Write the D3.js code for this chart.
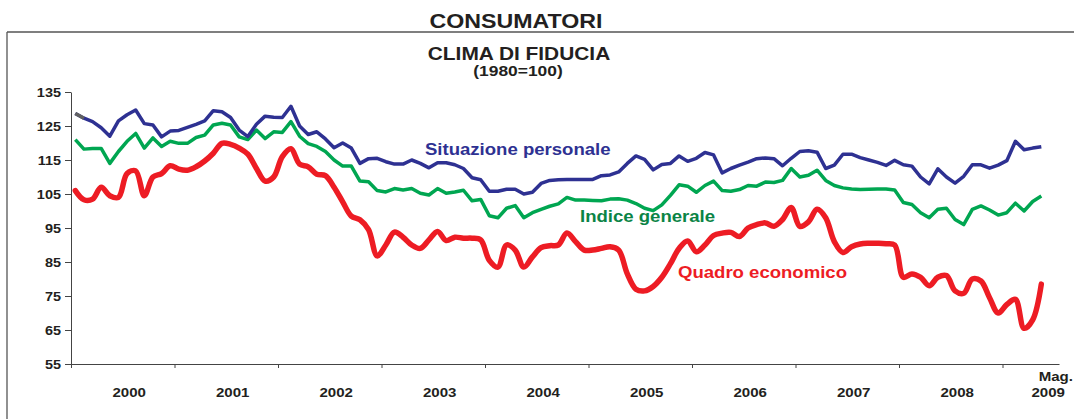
<!DOCTYPE html>
<html>
<head>
<meta charset="utf-8">
<script src="https://cdn.jsdelivr.net/npm/d3@7"></script>
<style>
  body { margin: 0; background: #fff; }
  text { font-family: "Liberation Sans", Arial, sans-serif; font-weight: bold; }
</style>
</head>
<body>
<script>
// monthly series, Jan 2000 .. May 2009
var years = [2000, 2001, 2002, 2003, 2004, 2005, 2006, 2007, 2008, 2009];
var lastMonthLabel = "Mag.";
var yTicks = [55, 65, 75, 85, 95, 105, 115, 125, 135];

var situazionePersonale = [
  128.7, 127.3, 126.3, 124.5, 122.0, 126.5, 128.3, 129.7, 125.7, 125.3, 121.8, 123.5,
  123.7, 124.6, 125.5, 126.5, 129.5, 129.2, 127.5, 123.8, 121.9, 125.5, 127.9, 127.6,
  127.5, 130.8, 125.0, 122.5, 123.3, 121.2, 118.6, 120.0, 118.5, 114.0, 115.4, 115.5,
  114.5, 113.8, 113.8, 115.0, 114.0, 112.7, 114.2, 114.2, 113.6, 112.5, 109.8, 109.2,
  105.8, 105.8, 106.4, 106.4, 105.0, 105.5, 108.1, 109.0, 109.2, 109.3, 109.3, 109.3,
  109.3, 110.4, 110.6, 111.5, 114.0, 116.2, 115.2, 112.1, 113.7, 114.0, 116.2, 114.6,
  115.5, 117.2, 116.5, 111.2, 112.5, 113.5, 114.4, 115.4, 115.6, 115.4, 113.3, 115.5,
  117.5, 117.7, 117.3, 112.5, 113.5, 116.7, 116.7, 115.7, 115.0, 114.3, 113.4, 114.9,
  113.6, 113.2, 110.0, 108.0, 112.4, 110.0, 108.2, 110.2, 113.6, 113.6, 112.6, 113.5,
  114.8, 120.5, 118.0, 118.5, 118.9
];

var indiceGenerale = [
  121.0, 118.2, 118.4, 118.4, 114.0, 117.5, 120.5, 122.8, 118.5, 121.5, 119.0, 120.5,
  119.9, 119.9, 121.6, 122.3, 125.3, 125.8, 125.3, 121.8, 121.0, 123.8, 121.3, 123.3,
  123.1, 126.3, 122.0, 119.8, 119.0, 117.5, 115.0, 113.2, 113.2, 108.8, 108.6, 106.0,
  105.6, 106.6, 106.2, 106.6, 105.2, 104.7, 106.6, 105.2, 105.6, 106.1, 103.0, 103.4,
  98.6, 98.0, 100.8, 101.6, 98.0, 99.5, 100.5, 101.4, 102.1, 104.0, 103.2, 103.2,
  103.1, 103.0, 103.5, 103.6, 103.2, 102.2, 100.8, 100.1, 101.8, 104.6, 107.7, 107.3,
  105.5, 107.5, 108.8, 106.0, 105.8, 106.3, 107.5, 107.3, 108.5, 108.4, 109.0, 112.5,
  110.0, 110.5, 112.0, 109.0, 107.5, 106.8, 106.5, 106.3, 106.4, 106.5, 106.5, 106.2,
  102.5, 101.9, 99.5, 98.0, 100.5, 100.8, 97.5, 96.0, 100.5, 101.5, 100.3, 98.8,
  99.5, 102.3, 100.0, 102.8, 104.4
];

var quadroEconomico = [
  106.0, 103.3, 103.5, 107.0, 104.5, 104.0, 111.0, 111.8, 104.5, 110.0, 111.0, 113.3,
  112.3, 112.0, 113.0, 114.7, 117.0, 119.9, 119.6, 118.5, 116.7, 112.5, 108.8, 110.0,
  116.0, 118.3, 113.8, 113.0, 110.8, 110.4, 107.0, 102.7, 98.5, 97.4, 94.5, 86.8,
  90.0, 93.8, 92.3, 90.0, 89.0, 91.5, 94.0, 91.3, 92.3, 92.0, 92.0, 91.5,
  85.5, 83.5, 90.0, 88.5, 83.5, 86.5, 89.2, 89.8, 90.0, 93.5, 91.0, 88.5,
  88.5, 89.0, 89.5, 88.5, 81.5, 77.0, 76.5, 77.8, 80.5, 84.5, 89.0, 91.2,
  88.0, 90.0, 92.8, 93.5, 93.7, 92.5, 95.0, 96.0, 96.5, 95.5, 97.5, 101.0,
  95.5, 96.8, 100.5, 98.0, 91.0, 87.8, 89.5, 90.3, 90.5, 90.5, 90.4, 90.0,
  80.5, 81.5, 80.5, 78.0, 80.5, 81.0, 76.5, 75.8, 80.0, 79.4, 74.5, 70.0,
  72.5, 74.0, 65.5, 68.0, 78.5
];

var W = 1074, H = 419;
var sx = 1.16; // the original lettering is stretched horizontally

var svg = d3.select("body").append("svg")
    .attr("width", W)
    .attr("height", H);

// frame: top rule and left rule
svg.append("line")
    .attr("x1", 7).attr("x2", W).attr("y1", 32).attr("y2", 32)
    .attr("stroke", "#555").attr("stroke-width", 1.3);
svg.append("line")
    .attr("x1", 7).attr("x2", 7).attr("y1", 32).attr("y2", H)
    .attr("stroke", "#555").attr("stroke-width", 1.3);

function label(x, y, txt, size, fill, anchor) {
    return svg.append("text")
        .attr("transform", "translate(" + x + "," + y + ") scale(" + sx + ",1)")
        .attr("text-anchor", anchor || "middle")
        .attr("font-size", size)
        .attr("fill", fill || "#231f20")
        .text(txt);
}

label(516, 28, "CONSUMATORI", 20);
label(519, 60, "CLIMA DI FIDUCIA", 18);
label(518, 76, "(1980=100)", 15);

var nMonths = situazionePersonale.length;

var x = d3.scaleLinear()
    .domain([0, 114.55]) // months from Jan 2000
    .range([71, 1059]);

var y = d3.scaleLinear()
    .domain([55, 135])
    .range([364, 92]);

// y axis
var yAxis = svg.append("g")
    .attr("transform", "translate(" + x.range()[0] + ",0)")
    .call(d3.axisLeft(y).tickValues(yTicks).tickSize(6).tickSizeOuter(0).tickPadding(5));
yAxis.select(".domain").attr("stroke", "#444");
yAxis.selectAll(".tick line").attr("stroke", "#444");
yAxis.selectAll(".tick text")
    .attr("font-size", 12.5)
    .attr("fill", "#231f20")
    .attr("font-family", "Liberation Sans, Arial, sans-serif")
    .attr("transform", "scale(" + sx + ",1)")
    .attr("x", -10 / sx);

// x axis: year boundaries
var xAxis = svg.append("g")
    .attr("transform", "translate(0," + y.range()[0] + ")")
    .call(d3.axisBottom(x)
        .tickValues(years.map(function(d, i) { return i * 12; }))
        .tickFormat("")
        .tickSize(4)
        .tickSizeOuter(0));
xAxis.select(".domain").attr("stroke", "#444");
xAxis.selectAll(".tick line").attr("stroke", "#444");

years.forEach(function(yr, i) {
    var m = Math.min(i * 12 + 6.75, nMonths + 0.3);
    label(x(m), 397, yr, 13);
});
label(W - 1, 381, lastMonthLabel, 13, null, "end");

function pts(arr) {
    return arr.map(function(v, i) { return {m: i + 0.5, v: v}; });
}

var straight = d3.line()
    .x(function(d) { return x(d.m); })
    .y(function(d) { return y(d.v); });

var smooth = d3.line()
    .x(function(d) { return x(d.m); })
    .y(function(d) { return y(d.v); })
    .curve(d3.curveCatmullRom.alpha(0.5));

svg.append("path")
    .datum(pts(indiceGenerale))
    .attr("d", straight)
    .attr("fill", "none")
    .attr("stroke", "#00a651")
    .attr("stroke-width", 3.5)
    .attr("stroke-linejoin", "round");

svg.append("path")
    .datum(pts(situazionePersonale))
    .attr("d", straight)
    .attr("fill", "none")
    .attr("stroke", "#2e3192")
    .attr("stroke-width", 3.5)
    .attr("stroke-linejoin", "round");

// first stretch of the personal series is drawn grey
svg.append("path")
    .datum(pts(situazionePersonale).slice(0, 2))
    .attr("d", straight)
    .attr("fill", "none")
    .attr("stroke", "#606060")
    .attr("stroke-width", 3.5);

svg.append("path")
    .datum(pts(quadroEconomico))
    .attr("d", smooth)
    .attr("fill", "none")
    .attr("stroke", "#ed1c24")
    .attr("stroke-width", 5.5)
    .attr("stroke-linejoin", "round")
    .attr("stroke-linecap", "round");

// series names
label(425, 155, "Situazione personale", 16, "#2e3192", "start");
label(580, 222, "Indice generale", 16, "#0b8446", "start");
label(678, 278, "Quadro economico", 16, "#ed1c24", "start");
</script>
</body>
</html>
